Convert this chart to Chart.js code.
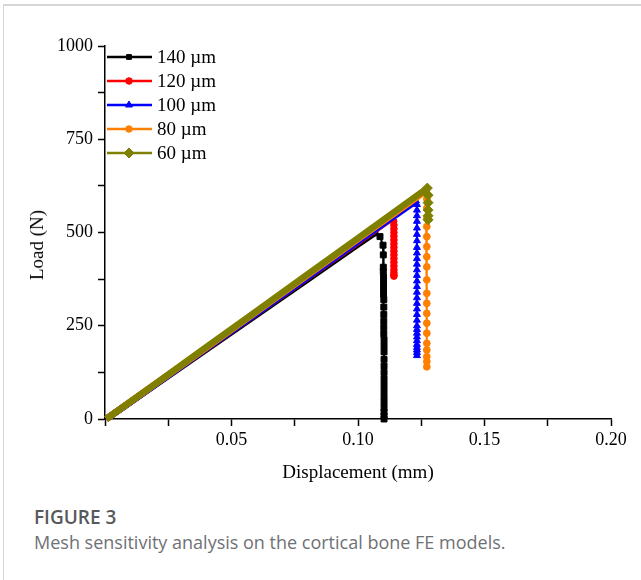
<!DOCTYPE html>
<html>
<head>
<meta charset="utf-8">
<script src="https://cdn.jsdelivr.net/npm/chart.js@4/dist/chart.umd.min.js"></script>
<style>
  html, body { margin:0; padding:0; background:#fff; }
  body { width:641px; height:580px; position:relative; overflow:hidden; }
  #card { position:absolute; left:3px; top:4px; width:700px; height:640px; border-top:2px solid #d6d6d6; border-left:1px solid #d6d6d6; }
  #wrap { position:absolute; left:0; top:0; width:641px; height:490px; }
  #ytitle { position:absolute; left:37px; top:245px; transform:translate(-50%, -50%) rotate(-90deg);
            font-family:"Liberation Serif", serif; font-size:19px; color:#000; white-space:nowrap; }
  #cap { position:absolute; left:34px; top:505px; font-family:"Open Sans", sans-serif; }
  #cap .num { font-size:19px; font-weight:600; color:#58595b; line-height:24px; }
  #cap .txt { font-size:18px; color:#707175; line-height:26px; }
</style>
</head>
<body>
<div id="card"></div>
<div id="wrap"><canvas id="meshChart" width="641" height="490"></canvas></div>
<div id="ytitle">Load (N)</div>
<div id="cap">
  <div class="num">FIGURE 3</div>
  <div class="txt">Mesh sensitivity analysis on the cortical bone FE models.</div>
</div>
<script>
//
// mesh sizes and load-displacement curves
//
const meshLabels = ["140 µm", "120 µm", "100 µm", "80 µm", "60 µm"];

const disp140 = [0.0005, 0.02, 0.04, 0.06, 0.08, 0.10, 0.1067, 0.1087, 0.1099, 0.1100, 0.1100, 0.1100, 0.1101,
  0.1101, 0.1101, 0.1101, 0.1102, 0.1102, 0.1102, 0.1102, 0.1102, 0.1102, 0.1103, 0.1103, 0.1103, 0.1103, 0.1103,
  0.1103, 0.1103, 0.1103, 0.1103, 0.1103, 0.1103, 0.1103, 0.1103, 0.1103, 0.1103];
const load140 = [0, 92, 186, 280, 374, 468, 499, 489, 466, 440, 407, 395, 380, 365, 350, 335, 320, 300, 280, 262,
  245, 228, 212, 196, 180, 160, 142, 125, 108, 92, 76, 60, 45, 30, 18, 8, 0];

const disp120 = [0.0005, 0.02, 0.04, 0.06, 0.08, 0.10, 0.1133, 0.1141, 0.1142, 0.1142, 0.1142, 0.1142, 0.1142,
  0.1142, 0.1142, 0.1142, 0.1142, 0.1142, 0.1142, 0.1142, 0.1142, 0.1142, 0.1142, 0.1142];
const load120 = [0, 94, 189, 284, 379, 474, 538, 530, 520, 510, 500, 490, 480, 470, 460, 450, 440, 430, 420, 410,
  400, 392, 386, 383];

const disp100 = [0.0005, 0.02, 0.04, 0.06, 0.08, 0.10, 0.12, 0.1229, 0.1233, 0.1233, 0.1233, 0.1233, 0.1233,
  0.1233, 0.1233, 0.1233, 0.1233, 0.1233, 0.1233, 0.1233, 0.1233, 0.1233, 0.1233, 0.1233, 0.1233, 0.1233, 0.1233,
  0.1233, 0.1233, 0.1233, 0.1233, 0.1233, 0.1233, 0.1233, 0.1233, 0.1233, 0.1233, 0.1233, 0.1233];
const load100 = [0, 93, 189, 284, 380, 476, 571, 585, 575, 560, 545, 530, 512, 495, 478, 460, 445, 430, 415, 400,
  385, 370, 355, 340, 325, 310, 295, 280, 265, 250, 240, 230, 220, 210, 200, 192, 185, 178, 170];

const disp80 = [0.0005, 0.02, 0.04, 0.06, 0.08, 0.10, 0.12, 0.1269, 0.1272, 0.1272, 0.1272, 0.1272, 0.1272,
  0.1272, 0.1272, 0.1272, 0.1272, 0.1272, 0.1272, 0.1272, 0.1272, 0.1272, 0.1272, 0.1272, 0.1272, 0.1272, 0.1272];
const load80 = [0, 94, 191, 288, 385, 482, 578, 612, 590, 565, 540, 516, 489, 462, 435, 408, 373, 337, 310, 283,
  257, 230, 203, 185, 167, 154, 140];

const disp60 = [0.0005, 0.02, 0.04, 0.06, 0.08, 0.10, 0.12, 0.1274, 0.1277, 0.1277, 0.1277, 0.1277, 0.1277];
const load60 = [0, 95, 193, 290, 388, 485, 583, 619, 600, 580, 560, 545, 534];

const xTicksShown = [0.05, 0.10, 0.15, 0.20];
const yTicksShown = [0, 250, 500, 750, 1000];

//
// helpers
//
function toPoints(xs, ys) {
  return xs.map((x, i) => ({ x: x, y: ys[i] }));
}

function peakIndex(ys) {
  let k = 0;
  ys.forEach((v, i) => { if (v > ys[k]) k = i; });
  return k;
}

function makeSet(label, xs, ys, color, style, radius, legendRadius, order) {
  const pk = peakIndex(ys);
  return {
    label: label,
    data: toPoints(xs, ys),
    borderColor: color,
    backgroundColor: color,
    pointStyle: style,
    pointRadius: ctx => (ctx.dataIndex >= pk ? radius : 0),
    pointBorderWidth: 1,
    legendRadius: legendRadius,
    showLine: true,
    borderWidth: 2,
    segment: {
      borderWidth: ctx => (ctx.p1.parsed.y > ctx.p0.parsed.y ? 6.5 : 2)
    },
    order: order,
    clip: 6
  };
}

const datasets = [
  makeSet(meshLabels[0], disp140, load140, "#000000", "rect", 4.2, 3.4, 5),
  makeSet(meshLabels[1], disp120, load120, "#ff0000", "circle", 3.3, 3.3, 4),
  makeSet(meshLabels[2], disp100, load100, "#0000ff", "triangle", 4, 4, 3),
  makeSet(meshLabels[3], disp80, load80, "#ff8000", "circle", 3.4, 3.3, 2),
  makeSet(meshLabels[4], disp60, load60, "#808000", "rectRot", 5, 5, 1)
];

// legend in the top left corner of the plot, Origin style
const cornerLegend = {
  id: "cornerLegend",
  afterDraw(chart) {
    const { ctx, chartArea } = chart;
    ctx.save();
    chart.data.datasets.forEach((ds, i) => {
      const y = chartArea.top + 11 + i * 24;
      const x0 = chartArea.left + 2;
      ctx.strokeStyle = ds.borderColor;
      ctx.lineWidth = 2.5;
      ctx.beginPath();
      ctx.moveTo(x0, y);
      ctx.lineTo(x0 + 45, y);
      ctx.stroke();
      ctx.fillStyle = ds.borderColor;
      ctx.lineWidth = 1;
      Chart.helpers.drawPoint(ctx, { pointStyle: ds.pointStyle, radius: ds.legendRadius, borderWidth: 1, rotation: 0 }, x0 + 22, y);
      ctx.fillStyle = "#000";
      ctx.font = '19px "Liberation Serif"';
      ctx.textAlign = "left";
      ctx.textBaseline = "middle";
      ctx.fillText(ds.label, x0 + 50, y + 1);
    });
    ctx.restore();
  }
};

const axisFont = { family: '"Liberation Serif", serif', size: 18 };

const meshChart = new Chart("meshChart", {
  type: "scatter",
  data: { datasets: datasets },
  plugins: [cornerLegend],
  options: {
    responsive: false,
    animation: false,
    devicePixelRatio: 1,
    layout: { padding: { top: 46, right: 30, left: 0, bottom: 0 } },
    plugins: {
      legend: { display: false },
      tooltip: { enabled: false }
    },
    scales: {
      x: {
        type: "linear",
        min: 0,
        max: 0.2,
        afterFit: s => { s.height = 71; },
        border: { display: true, color: "#000", width: 1.5 },
        grid: { drawOnChartArea: false, drawTicks: true, tickLength: 7, tickColor: "#000", tickWidth: 1.5 },
        ticks: {
          stepSize: 0.025,
          autoSkip: false,
          maxRotation: 0,
          padding: 3,
          color: "#000",
          font: axisFont,
          callback: v => {
            const hit = xTicksShown.find(t => Math.abs(t - v) < 1e-6);
            return hit === undefined ? "" : hit.toFixed(2);
          }
        },
        title: {
          display: true,
          text: "Displacement (mm)",
          color: "#000",
          font: { family: '"Liberation Serif", serif', size: 19 },
          padding: { top: 4, bottom: 6 }
        }
      },
      y: {
        min: 0,
        max: 1000,
        afterFit: s => { s.width = 105; },
        border: { display: true, color: "#000", width: 1.5 },
        grid: { drawOnChartArea: false, drawTicks: true, tickLength: 7, tickColor: "#000", tickWidth: 1.5 },
        ticks: {
          stepSize: 125,
          autoSkip: false,
          padding: 5,
          color: "#000",
          font: axisFont,
          callback: v => (yTicksShown.includes(v) ? v : "")
        },
        title: { display: false }
      }
    }
  }
});
</script>
</body>
</html>
